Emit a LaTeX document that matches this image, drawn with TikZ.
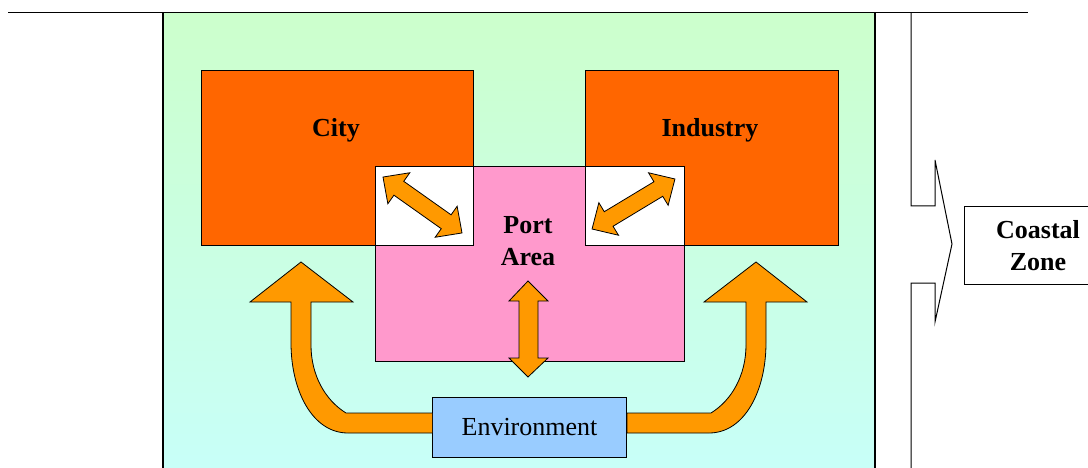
\documentclass[tikz,border=0pt]{standalone}
\usepackage{fontspec}
\setmainfont{Liberation Serif}
\definecolor{boxorange}{HTML}{FF6600}
\definecolor{arroworange}{HTML}{FF9900}
\definecolor{portpink}{HTML}{FF99CC}
\definecolor{envblue}{HTML}{99CCFF}
\definecolor{zonegreen}{HTML}{CCFFCC}
\definecolor{zonecyan}{HTML}{C8FFF8}
\tikzset{
  base/.style={draw=black, line width=1pt},
  orangebox/.style={base, fill=boxorange, rectangle, inner sep=0pt, anchor=north west},
  whitebox/.style={base, fill=white, rectangle, inner sep=0pt, anchor=north west},
  pinkbox/.style={base, fill=portpink, rectangle, inner sep=0pt, anchor=north west},
  envbox/.style={base, fill=envblue, rectangle, inner sep=0pt, anchor=north west},
  plainbox/.style={base, fill=white, rectangle, inner sep=0pt, anchor=north west},
  bigarrow/.style={draw=black, line width=0.8pt, fill=arroworange, line join=miter},
  lbl/.style={font=\fontsize{26}{32}\selectfont\bfseries, align=center, inner sep=0pt},
  lblplain/.style={font=\fontsize{26}{32}\selectfont, align=center, inner sep=0pt},
}
\begin{document}
\begin{tikzpicture}[x=1pt,y=-1pt]
\useasboundingbox (0,0) rectangle (1088,468);
% background zone
\fill[top color=zonegreen, bottom color=zonecyan] (163,12.5) rectangle (875,470);
\draw[line width=1.2pt] (163,470) -- (163,12.5) -- (875,12.5) -- (875,470);
\draw[line width=1.2pt] (8,12.5) -- (1028,12.5);
% coastal boundary with arrow
\draw[line width=1pt, line join=miter] (911,12.5) -- (911,206) -- (935,206) -- (935,160) -- (952,244) -- (935,322) -- (935,283) -- (911,283) -- (911,470);
\node[plainbox, minimum width=123.5, minimum height=78] (coast) at (964,206) {};
\node[lbl] (coastlbl) at (1038,246) {Coastal\\Zone};
% city and industry
\node[orangebox, minimum width=272, minimum height=175] (city) at (201,70) {};
\node[orangebox, minimum width=253, minimum height=175] (industry) at (585,70) {};
\node[lbl] (citylbl) at (336,130) {City};
\node[lbl] (industrylbl) at (710,130) {Industry};
% port area
\node[pinkbox, minimum width=309, minimum height=195] (port) at (375,166) {};
\node[whitebox, minimum width=98, minimum height=79] (wl) at (375,166) {};
\node[whitebox, minimum width=99, minimum height=79] (wr) at (585,166) {};
\node[lbl] (portlbl) at (528,241) {Port\\Area};
% diagonal double arrows
\draw[bigarrow, shift={(422.5,205)}, rotate=-35.3]
  (-48.4,0) -- (-29,-19) -- (-29,-8.5) -- (29,-8.5) -- (29,-19) -- (48.4,0)
  -- (29,19) -- (29,8.5) -- (-29,8.5) -- (-29,19) -- cycle;
\draw[bigarrow, shift={(633.5,204)}, rotate=31.1]
  (-48.4,0) -- (-29,-19) -- (-29,-8.5) -- (29,-8.5) -- (29,-19) -- (48.4,0)
  -- (29,19) -- (29,8.5) -- (-29,8.5) -- (-29,19) -- cycle;
% vertical double arrow
\draw[bigarrow] (528,281) -- (548,301) -- (538,301) -- (538,358) -- (548,358) -- (528,377)
  -- (509,358) -- (519,358) -- (519,301) -- (509,301) -- cycle;
% environment
\node[envbox, minimum width=194, minimum height=60] (env) at (432,397) {};
% curved arrows
\draw[bigarrow] (env.west |- 0,413) -- (346,413) .. controls (325,400) and (311,375) .. (311,345)
  -- (311,302) -- (353,302) -- (301,262) -- (250,302) -- (291,302) -- (291,343)
  .. controls (291,390) and (312,433) .. (348,433) -- (env.west |- 0,433);
\draw[bigarrow] (env.east |- 0,413) -- (711,413) .. controls (732,400) and (746,375) .. (746,345)
  -- (746,302) -- (704,302) -- (756,262) -- (807,302) -- (766,302) -- (766,343)
  .. controls (766,390) and (745,433) .. (709,433) -- (env.east |- 0,433) -- cycle;
\node[lblplain] (envlbl) at (env.center) {Environment};
\end{tikzpicture}
\end{document}
